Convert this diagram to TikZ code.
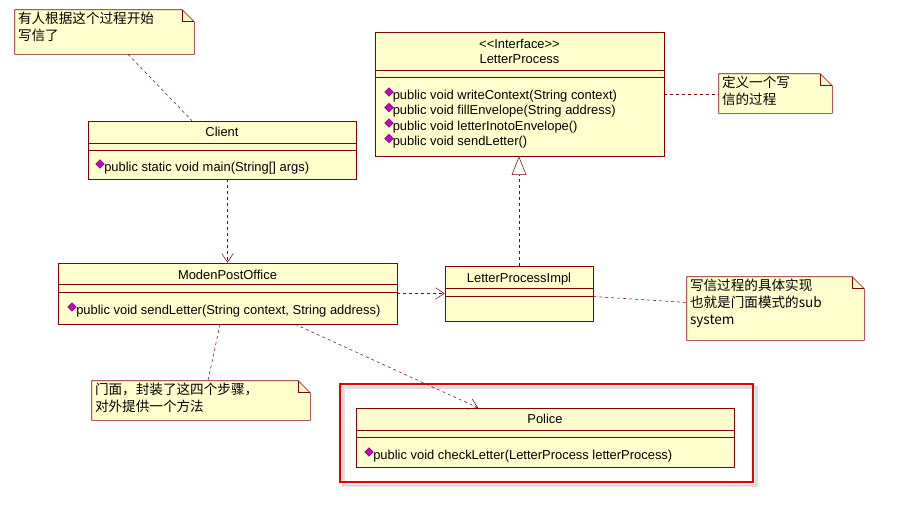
\documentclass[tikz,border=0pt]{standalone}
\usepackage{fontspec}
\setmainfont{Liberation Sans}
\newfontfamily\cjk{Noto Sans CJK SC}
\usetikzlibrary{arrows.meta, positioning}
\definecolor{roseyellow}{RGB}{255,255,206}
\definecolor{roseline}{RGB}{128,0,16}
\definecolor{opfill}{RGB}{204,0,204}
\definecolor{opline}{RGB}{110,0,110}
\definecolor{framered}{RGB}{228,0,0}
\newdimen\pu \pu=0.75pt
\tikzset{
  classbox/.style={draw=roseline, fill=roseyellow, inner sep=0pt},
  notebox/.style={inner sep=0pt},
  umltext/.style={font=\fontsize{9.7}{11}\selectfont, inner sep=0pt},
  notetext/.style={font=\cjk\fontsize{10.2}{12.6}\selectfont, inner sep=0pt, align=left, anchor=north west},
  opicon/.style={draw=opline, fill=opfill, minimum size=6\pu, inner sep=0pt, rotate=45},
  dep/.style={roseline, dash pattern=on 3\pu off 3\pu, -{Straight Barb[length=6.5pt, width=8.5pt]}},
  realize/.style={roseline, dash pattern=on 3\pu off 3\pu, -{Triangle[length=14pt, width=11pt, fill=white]}},
  link/.style={roseline, dash pattern=on 3\pu off 3\pu}
}

\begin{document}
\begin{tikzpicture}[x=1\pu, y=-1\pu]
\useasboundingbox (0,0) rectangle (897,514);

% red frame round Police
\draw[gray!25, line width=3\pu] (343,387) rectangle (756,485);
\node[draw=framered, line width=2\pu, minimum width=413\pu, minimum height=98\pu, inner sep=0pt] (frame) at (546.5,433) {};

% classes
\node[classbox, minimum width=268\pu, minimum height=58\pu] (client) at (222,150) {};
\node[classbox, minimum width=289\pu, minimum height=124\pu] (lp) at (519.5,94) {};
\node[classbox, minimum width=339\pu, minimum height=61\pu] (mpo) at (227.5,293.5) {};
\node[classbox, minimum width=148\pu, minimum height=55\pu] (lpi) at (519,293.5) {};
\node[classbox, minimum width=378\pu, minimum height=59\pu] (police) at (545,437.5) {};

\draw[roseline] (client.west |- 0,143) -- (client.east |- 0,143);
\draw[roseline] (client.west |- 0,150) -- (client.east |- 0,150);
\draw[roseline] (lp.west |- 0,70) -- (lp.east |- 0,70);
\draw[roseline] (lp.west |- 0,77) -- (lp.east |- 0,77);
\draw[roseline] (mpo.west |- 0,284) -- (mpo.east |- 0,284);
\draw[roseline] (mpo.west |- 0,292) -- (mpo.east |- 0,292);
\draw[roseline] (lpi.west |- 0,288) -- (lpi.east |- 0,288);
\draw[roseline] (lpi.west |- 0,296) -- (lpi.east |- 0,296);
\draw[roseline] (police.west |- 0,430) -- (police.east |- 0,430);
\draw[roseline] (police.west |- 0,437) -- (police.east |- 0,437);

% class names
\node[umltext] (clientname) at (222,132) {Client};
\node[umltext] (lpstereo) at (519.5,44) {<{}<Interface>{}>};
\node[umltext] (lpname) at (519.5,59) {LetterProcess};
\node[umltext] (mponame) at (227.5,275) {ModenPostOffice};
\node[umltext] (lpiname) at (519,279) {LetterProcessImpl};
\node[umltext] (policename) at (545,419) {Police};

% operations
\node[opicon] (clienticon) at (100,164) {};
\node[umltext, anchor=west] (clientop) at (104,168) {public static void main(String[] args)};
\foreach \m [count=\i] in {writeContext(String context), fillEnvelope(String address), letterInotoEnvelope(), sendLetter()} {
  \node[opicon] (lpicon\i) at (389,76.5+15.5*\i) {};
  \node[umltext, anchor=west] (lpop\i) at (392.5,80.5+15.5*\i) {public void \m};
}
\node[opicon] (mpoicon) at (72,307) {};
\node[umltext, anchor=west] (mpoop) at (76,311) {public void sendLetter(String context, String address)};
\node[opicon] (policeicon) at (369,452) {};
\node[umltext, anchor=west] (policeop) at (373,456) {public void checkLetter(LetterProcess letterProcess)};

% notes
\node[notebox, minimum width=179\pu, minimum height=44\pu] (note1) at (104.5,32) {};
\node[notebox, minimum width=113\pu, minimum height=39\pu] (note2) at (775.5,93.5) {};
\node[notebox, minimum width=177\pu, minimum height=63\pu] (note3) at (775.5,308.5) {};
\node[notebox, minimum width=218\pu, minimum height=39\pu] (note4) at (201,400.5) {};
\foreach \n in {note1,note2,note3,note4} {
  \draw[roseline, fill=roseyellow] (\n.north west) -- ([xshift=-12\pu]\n.north east) -- ([yshift=-12\pu]\n.north east) -- (\n.south east) -- (\n.south west) -- cycle;
  \draw[roseline] ([xshift=-12\pu]\n.north east) |- ([yshift=-12\pu]\n.north east);
}
\node[notetext, below right=2\pu and 3\pu of note1.north west] (note1text) {有人根据这个过程开始\\写信了};
\node[notetext, below right=2\pu and 3\pu of note2.north west] (note2text) {定义一个写\\信的过程};
\node[notetext, below right=2\pu and 3\pu of note3.north west] (note3text) {写信过程的具体实现\\也就是门面模式的sub\\system};
\node[notetext, below right=2\pu and 3\pu of note4.north west] (note4text) {门面，封装了这四个步骤，\\对外提供一个方法};

% connectors
\draw[dep] (mpo.north |- client.south) -- (mpo.north);
\draw[dep] (mpo.east) -- (lpi.west);
\draw[dep] ([xshift=67.5\pu]mpo.south) -- ([xshift=-67\pu]police.north);
\draw[realize] (lpi.north) -- (lpi.north |- lp.south);
\draw[link] ([xshift=23.5\pu]note1.south) -- ([xshift=-30\pu]client.north);
\draw[link] (lp.east) -- (lp.east -| note2.west);
\draw[link] ([yshift=-3\pu]lpi.east) -- ([yshift=6\pu]note3.west);
\draw[link] ([xshift=-7.5\pu]mpo.south) -- ([xshift=7\pu]note4.north);
\end{tikzpicture}
\end{document}
